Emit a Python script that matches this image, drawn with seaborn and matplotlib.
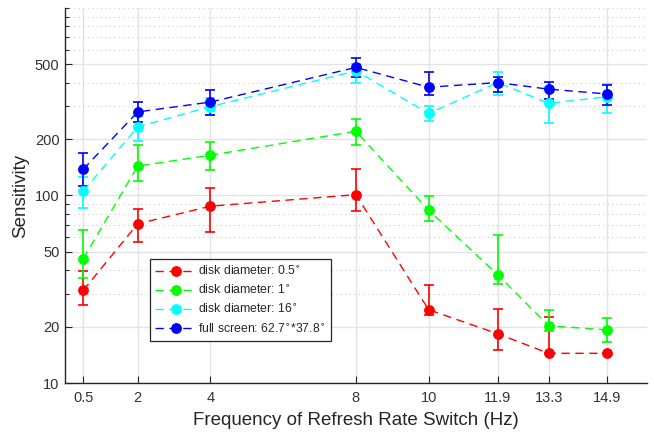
import numpy as np
import pandas as pd
import matplotlib
matplotlib.use("Agg")
import matplotlib.pyplot as plt
import seaborn as sns
from matplotlib.ticker import FixedLocator, NullFormatter, FixedFormatter

freq = [0.5, 2, 4, 8, 10, 11.9, 13.3, 14.9]
xtick_labels = ["0.5", "2", "4", "8", "10", "11.9", "13.3", "14.9"]
ytick_vals = [10, 20, 50, 100, 200, 500]

labels = ["disk diameter: 0.5$^{\\circ}$",
          "disk diameter: 1$^{\\circ}$",
          "disk diameter: 16$^{\\circ}$",
          "full screen: 62.7$^{\\circ}$*37.8$^{\\circ}$"]
colors = ["#ff0000", "#00ff00", "#00ffff", "#0000ff"]

red = [31.2, 70.6, 87.7, 101, 24.6, 18.3, 14.4, 14.4]
red_lo = [26.2, 56.5, 64, 83, 23, 15, 14.4, 14.4]
red_hi = [39.6, 84.9, 109, 139, 33.5, 24.9, 22.5, 14.4]

green = [46, 143.5, 164, 220, 83.4, 37.8, 20.2, 19.2]
green_lo = [36.4, 119, 136, 186, 72.9, 33.7, 19, 16.6]
green_hi = [65.8, 187, 194, 255, 99, 61.9, 24.6, 22.3]

cyan = [105.5, 232, 298, 462, 274, 400, 310, 336]
cyan_lo = [85.5, 195, 268, 396, 251, 343, 245, 274]
cyan_hi = [125, 265, 330, 500, 300, 456, 380, 395]

blue = [138, 279, 315, 482, 378, 400, 369, 348]
blue_lo = [112, 247, 269, 429, 344, 358, 329, 305]
blue_hi = [169, 315, 366, 540, 455, 429, 405, 389]

series = [(red, red_lo, red_hi), (green, green_lo, green_hi),
          (cyan, cyan_lo, cyan_hi), (blue, blue_lo, blue_hi)]

sns.set_theme(style="white")
plt.rcParams['font.family'] = ['Liberation Sans', 'DejaVu Sans']
plt.rcParams['mathtext.fontset'] = 'dejavusans'

fig = plt.figure(figsize=(6.54, 4.34), dpi=100)
ax = fig.add_axes([0.0994, 0.1175, 0.8896, 0.8641])

for (vals, lo, hi), col, lab in zip(series, colors, labels):
    vals = np.array(vals); lo = np.array(lo); hi = np.array(hi)
    ax.errorbar(freq, vals, yerr=[vals - lo, hi - vals], fmt='none',
                ecolor=col, elinewidth=1.2, capsize=3.5, capthick=1.2, zorder=3)
    df = pd.DataFrame({"freq": freq, "sens": vals})
    sns.lineplot(data=df, x="freq", y="sens", ax=ax, color=col, marker='o',
                 markersize=7, markeredgecolor=col, markerfacecolor=col,
                 linewidth=1.0, linestyle=(0, (6, 4)), label=lab, zorder=4)

ax.set_yscale('log')
ax.set_xlim(0, 16)
ax.set_ylim(10, 1000)

ax.xaxis.set_major_locator(FixedLocator(freq))
ax.xaxis.set_major_formatter(FixedFormatter(xtick_labels))
ax.yaxis.set_major_locator(FixedLocator(ytick_vals))
ax.yaxis.set_major_formatter(FixedFormatter([str(v) for v in ytick_vals]))
minor = [30, 40, 60, 70, 80, 90, 300, 400, 600, 700, 800, 900, 1000]
ax.yaxis.set_minor_locator(FixedLocator(minor))
ax.yaxis.set_minor_formatter(NullFormatter())

ax.grid(True, which='major', color='#e3e3e3', linewidth=1.0, linestyle='-')
ax.grid(True, which='minor', axis='y', color='#cccccc', linewidth=0.8, linestyle=(0, (1, 3)))
ax.set_axisbelow(True)

for s in ['top', 'right']:
    ax.spines[s].set_visible(False)
for s in ['left', 'bottom']:
    ax.spines[s].set_color('#262626')
    ax.spines[s].set_linewidth(1.0)

ax.tick_params(axis='both', which='major', direction='in', length=5, width=0.8,
               colors='#262626', labelsize=10.5, labelcolor='#333333',
               bottom=True, left=True)
ax.tick_params(axis='y', which='minor', direction='in', length=3, width=0.8,
               colors='#262626', left=True)
ax.tick_params(axis='x', pad=6)
ax.tick_params(axis='y', pad=4)

ax.set_xlabel("Frequency of Refresh Rate Switch (Hz)", fontsize=13.5, color='#262626', labelpad=5)
ax.set_ylabel("Sensitivity", fontsize=13.5, color='#262626', labelpad=4)

leg = ax.legend(loc='lower left', bbox_to_anchor=(0.146, 0.112), fontsize=8.8,
                frameon=True, fancybox=False, edgecolor='#262626', framealpha=1,
                handlelength=3.3, borderpad=0.45, labelspacing=0.5, handletextpad=0.2,
                borderaxespad=0)
leg.get_frame().set_linewidth(0.9)

fig.savefig("out.png", dpi=100)
